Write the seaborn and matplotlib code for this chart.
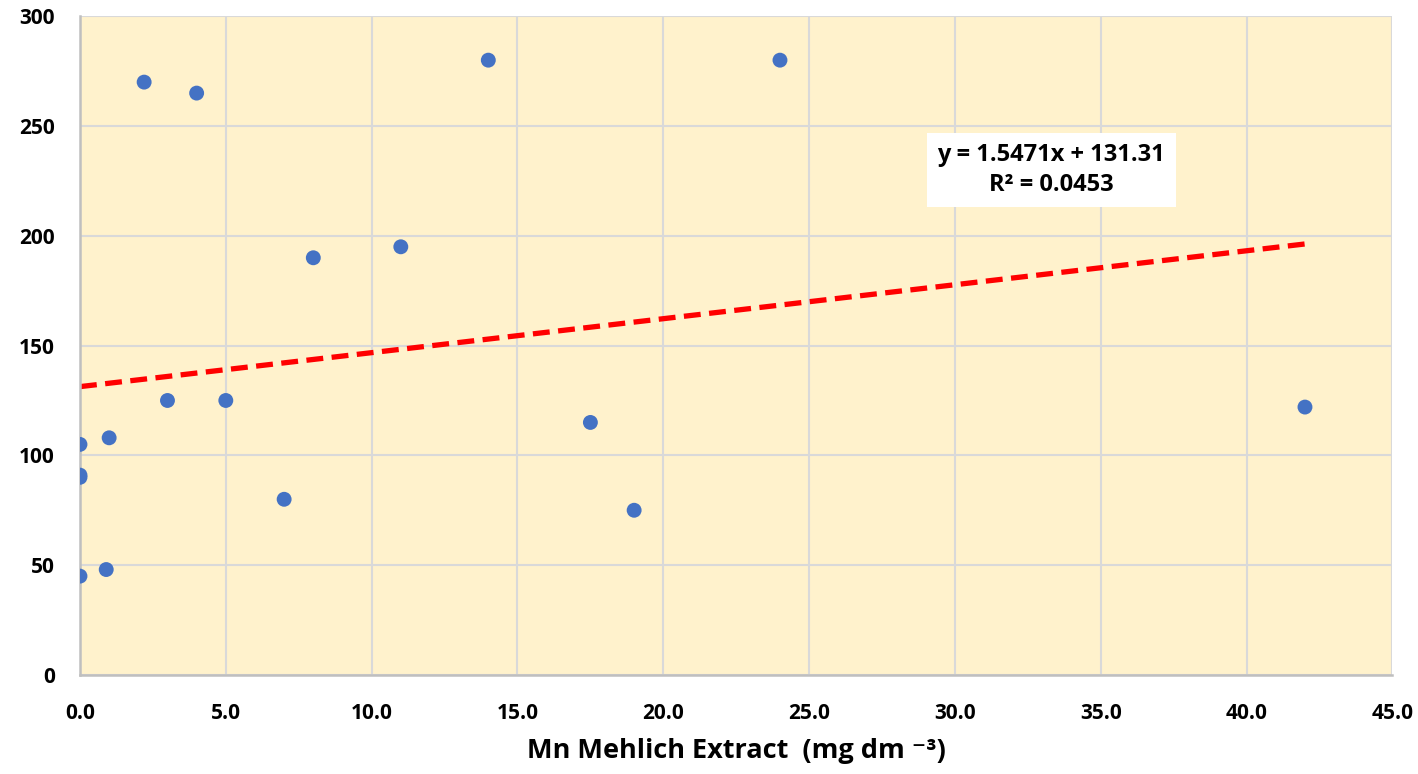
import matplotlib
matplotlib.use("Agg")
import matplotlib.pyplot as plt
import seaborn as sns
import numpy as np
import pandas as pd

# Data
mn_extract = [0.0, 0.9, 0.0, 0.0, 0.0, 1.0, 2.2, 4.0, 3.0, 5.0, 7.0, 8.0, 11.0, 14.0, 17.5, 19.0, 24.0, 42.0]
response   = [45, 48, 105, 90, 91, 108, 270, 265, 125, 125, 80, 190, 195, 280, 115, 75, 280, 122]
slope = 1.5471
intercept = 131.31
r_squared = 0.0453
x_ticks = [0, 5, 10, 15, 20, 25, 30, 35, 40, 45]
y_ticks = [0, 50, 100, 150, 200, 250, 300]

df = pd.DataFrame({"x": mn_extract, "y": response})

sns.set_theme(style="white")
plt.rcParams['font.family'] = ['Open Sans', 'DejaVu Sans']
plt.rcParams['text.color'] = 'black'
plt.rcParams['xtick.color'] = 'black'
plt.rcParams['ytick.color'] = 'black'
plt.rcParams['axes.labelcolor'] = 'black'

fig = plt.figure(figsize=(14.18, 7.74), dpi=100)
ax = fig.add_axes([0.0564, 0.128, 0.9256, 0.851])
ax.set_facecolor("#FFF2CC")

sns.scatterplot(data=df, x="x", y="y", ax=ax, color="#4472C4", s=115,
                edgecolor="none", zorder=3, legend=False)

xfit = np.array([min(mn_extract), max(mn_extract)])
ax.plot(xfit, slope * xfit + intercept, color="#FF0000", lw=3.8,
        dashes=(3.2, 1.6), zorder=2)

ax.set_xlim(0, 45)
ax.set_ylim(0, 300)
ax.set_xticks(x_ticks)
ax.set_xticklabels([f"{t:.1f}" for t in x_ticks])
ax.set_yticks(y_ticks)
ax.set_yticklabels([str(t) for t in y_ticks])
ax.grid(True, color="#D9D9D9", lw=1.5, zorder=0)
ax.set_axisbelow(True)

for s in ["top", "right"]:
    ax.spines[s].set_visible(False)
for s in ["left", "bottom"]:
    ax.spines[s].set_color("#BFBFBF")
    ax.spines[s].set_linewidth(1.8)

ax.tick_params(axis="both", length=0, labelsize=15)
ax.tick_params(axis="x", pad=20)
ax.tick_params(axis="y", pad=18)
for lab in ax.get_xticklabels() + ax.get_yticklabels():
    lab.set_fontweight("bold")

ax.set_xlabel("Mn Mehlich Extract  (mg dm \u207b\u00b3)", fontsize=19.5,
              fontweight="bold", labelpad=10)
ax.set_ylabel("")

ax.text(33.3, 230, f"y = {slope}x + {intercept}\nR\u00b2 = {r_squared}",
        ha="center", va="center", fontsize=17, fontweight="bold",
        linespacing=1.3, zorder=4,
        bbox=dict(boxstyle="square,pad=0.45", fc="white", ec="none"))

fig.savefig("out.png", dpi=100)
